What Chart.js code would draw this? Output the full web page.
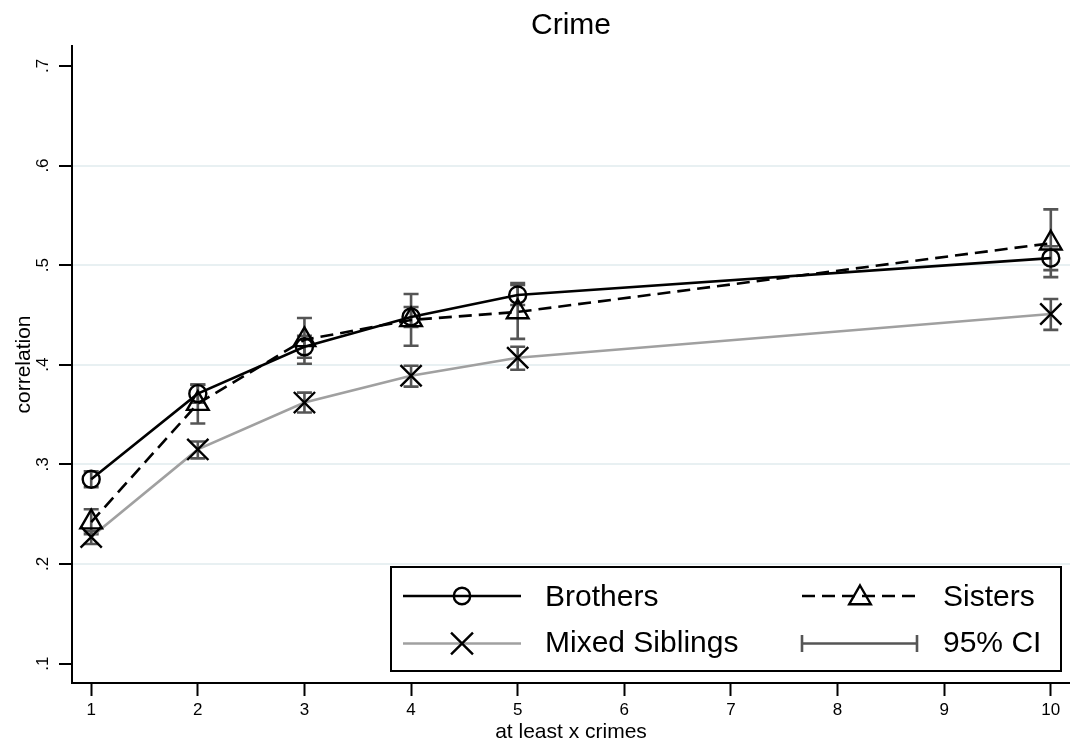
<!DOCTYPE html>
<html>
<head>
<meta charset="utf-8">
<title>Crime</title>
<script src="https://cdn.jsdelivr.net/npm/chart.js@4.4.1/dist/chart.umd.min.js"></script>
<style>
  html, body { margin: 0; padding: 0; background: #ffffff; }
  #wrap { width: 1070px; height: 747px; }
  canvas { display: block; }
</style>
</head>
<body>
<div id="wrap"><canvas id="chart" width="1070" height="747"></canvas></div>
<script>
// Thresholds: "at least x crimes"
const crimeCounts = [1, 2, 3, 4, 5, 10];

// Sibling correlations with 95% confidence bounds
const brothers     = [0.285, 0.371, 0.418, 0.448, 0.470, 0.507];
const brothersLow  = [0.277, 0.362, 0.407, 0.438, 0.460, 0.495];
const brothersHigh = [0.293, 0.380, 0.429, 0.458, 0.482, 0.519];

const sisters      = [0.242, 0.361, 0.425, 0.445, 0.453, 0.522];
const sistersLow   = [0.230, 0.341, 0.401, 0.419, 0.426, 0.488];
const sistersHigh  = [0.255, 0.380, 0.447, 0.471, 0.480, 0.556];

const mixed        = [0.227, 0.315, 0.362, 0.389, 0.407, 0.451];
const mixedLow     = [0.220, 0.306, 0.352, 0.378, 0.395, 0.435];
const mixedHigh    = [0.233, 0.323, 0.372, 0.399, 0.418, 0.466];

// Axis ticks
const xTicks = [1, 2, 3, 4, 5, 6, 7, 8, 9, 10];
const yTicks = [0.1, 0.2, 0.3, 0.4, 0.5, 0.6, 0.7];
const yTickLabels = ['.1', '.2', '.3', '.4', '.5', '.6', '.7'];
const yGridTicks = [0.2, 0.3, 0.4, 0.5, 0.6];

const FONT = "'Liberation Sans', Arial, Helvetica, sans-serif";
const CI_COLOR = '#555555';
const MIXED_COLOR = '#a0a0a0';

function points(values) {
  return crimeCounts.map((x, i) => ({ x: x, y: values[i] }));
}

// Interval caps drawn under the series lines
const ciBars = {
  id: 'ciBars',
  beforeDatasetsDraw(chart) {
    const ctx = chart.ctx;
    const xs = chart.scales.x, ys = chart.scales.y;
    const groups = [[mixedLow, mixedHigh], [sistersLow, sistersHigh], [brothersLow, brothersHigh]];
    ctx.save();
    ctx.strokeStyle = CI_COLOR;
    ctx.lineWidth = 2.6;
    ctx.lineCap = 'butt';
    groups.forEach(([lo, hi]) => {
      crimeCounts.forEach((c, i) => {
        const px = xs.getPixelForValue(c);
        const y1 = ys.getPixelForValue(lo[i]);
        const y2 = ys.getPixelForValue(hi[i]);
        ctx.beginPath();
        ctx.moveTo(px, y1); ctx.lineTo(px, y2);
        ctx.moveTo(px - 7.5, y1); ctx.lineTo(px + 7.5, y1);
        ctx.moveTo(px - 7.5, y2); ctx.lineTo(px + 7.5, y2);
        ctx.stroke();
      });
    });
    ctx.restore();
  }
};

function marker(ctx, style, x, y, r) {
  ctx.beginPath();
  if (style === 'circle') {
    ctx.arc(x, y, r, 0, Math.PI * 2);
  } else if (style === 'triangle') {
    let a = 0;
    ctx.moveTo(x + Math.sin(a) * r, y - Math.cos(a) * r);
    a += 2 * Math.PI / 3;
    ctx.lineTo(x + Math.sin(a) * r, y - Math.cos(a) * r);
    a += 2 * Math.PI / 3;
    ctx.lineTo(x + Math.sin(a) * r, y - Math.cos(a) * r);
    ctx.closePath();
  } else if (style === 'crossRot') {
    const o = Math.cos(Math.PI / 4) * r;
    ctx.moveTo(x - o, y - o); ctx.lineTo(x + o, y + o);
    ctx.moveTo(x + o, y - o); ctx.lineTo(x - o, y + o);
  }
  ctx.stroke();
}

// Boxed two-column key in the lower right of the plot
const keyBox = {
  id: 'keyBox',
  afterDraw(chart) {
    const ctx = chart.ctx;
    const box = { x: 391, y: 567, w: 670, h: 104 };
    const row1 = 596, row2 = 643.5;
    ctx.save();
    ctx.fillStyle = '#ffffff';
    ctx.fillRect(box.x, box.y, box.w, box.h);
    ctx.strokeStyle = '#000000';
    ctx.lineWidth = 2;
    ctx.strokeRect(box.x, box.y, box.w, box.h);

    // Brothers
    ctx.lineWidth = 2.6;
    ctx.strokeStyle = '#000000';
    ctx.beginPath(); ctx.moveTo(403, row1); ctx.lineTo(521, row1); ctx.stroke();
    ctx.lineWidth = 2.4;
    marker(ctx, 'circle', 462, row1, 8.2);

    // Sisters
    ctx.lineWidth = 2.6;
    ctx.setLineDash([13, 7]);
    ctx.beginPath(); ctx.moveTo(802, row1); ctx.lineTo(915, row1); ctx.stroke();
    ctx.setLineDash([]);
    ctx.lineWidth = 2.4;
    marker(ctx, 'triangle', 860, row1 + 2, 12.5);

    // Mixed siblings
    ctx.lineWidth = 2.6;
    ctx.strokeStyle = MIXED_COLOR;
    ctx.beginPath(); ctx.moveTo(403, row2); ctx.lineTo(521, row2); ctx.stroke();
    ctx.strokeStyle = '#000000';
    ctx.lineWidth = 2.4;
    marker(ctx, 'crossRot', 462, row2, 15.5);

    // Confidence interval
    ctx.strokeStyle = CI_COLOR;
    ctx.lineWidth = 2.6;
    ctx.beginPath();
    ctx.moveTo(802, row2); ctx.lineTo(917, row2);
    ctx.moveTo(802, row2 - 8.5); ctx.lineTo(802, row2 + 8.5);
    ctx.moveTo(917, row2 - 8.5); ctx.lineTo(917, row2 + 8.5);
    ctx.stroke();

    ctx.fillStyle = '#000000';
    ctx.font = '30px ' + FONT;
    ctx.textAlign = 'left';
    ctx.textBaseline = 'middle';
    ctx.fillText('Brothers', 545, row1 + 1.5);
    ctx.fillText('Sisters', 943, row1 + 1.5);
    ctx.fillText('Mixed Siblings', 545, row2 + 0.5);
    ctx.fillText('95% CI', 943, row2 + 0.5);
    ctx.restore();
  }
};

const whiteBg = {
  id: 'whiteBg',
  beforeDraw(chart) {
    const ctx = chart.ctx;
    ctx.save();
    ctx.fillStyle = '#ffffff';
    ctx.fillRect(0, 0, chart.width, chart.height);
    ctx.restore();
  }
};

new Chart(document.getElementById('chart'), {
  type: 'line',
  data: {
    datasets: [
      {
        label: 'Brothers',
        data: points(brothers),
        borderColor: '#000000',
        borderWidth: 2.6,
        pointStyle: 'circle',
        pointRadius: 8.5,
        pointBorderWidth: 2.4,
        pointBorderColor: '#000000',
        pointBackgroundColor: 'rgba(0,0,0,0)',
        tension: 0,
        fill: false
      },
      {
        label: 'Sisters',
        data: points(sisters),
        borderColor: '#000000',
        borderWidth: 2.6,
        borderDash: [13, 7],
        pointStyle: 'triangle',
        pointRadius: 12.5,
        pointBorderWidth: 2.4,
        pointBorderColor: '#000000',
        pointBackgroundColor: 'rgba(0,0,0,0)',
        tension: 0,
        fill: false
      },
      {
        label: 'Mixed Siblings',
        data: points(mixed),
        borderColor: MIXED_COLOR,
        borderWidth: 2.6,
        pointStyle: 'crossRot',
        pointRadius: 15,
        pointBorderWidth: 2.4,
        pointBorderColor: '#000000',
        pointBackgroundColor: 'rgba(0,0,0,0)',
        tension: 0,
        fill: false
      }
    ]
  },
  options: {
    responsive: false,
    devicePixelRatio: 1,
    animation: false,
    events: [],
    layout: { padding: 0, autoPadding: false },
    plugins: {
      legend: { display: false },
      tooltip: { enabled: false },
      title: {
        display: true,
        text: 'Crime',
        fullSize: false,
        color: '#000000',
        font: { family: FONT, size: 30, weight: 'normal' },
        padding: { top: 8, bottom: 2 }
      }
    },
    scales: {
      x: {
        type: 'linear',
        position: 'bottom',
        min: 0.82,
        max: 10.18,
        afterBuildTicks(scale) { scale.ticks = xTicks.map(v => ({ value: v })); },
        afterFit(scale) {
          scale.height = 64;
          scale.paddingLeft = 0;
          scale.paddingRight = 0;
        },
        ticks: {
          color: '#000000',
          font: { family: FONT, size: 17 },
          padding: 4,
          maxRotation: 0,
          minRotation: 0,
          callback: (v) => String(v)
        },
        grid: {
          drawOnChartArea: false,
          drawTicks: true,
          tickLength: 13,
          tickColor: '#000000',
          tickWidth: 2
        },
        border: { display: true, color: '#000000', width: 2 },
        title: {
          display: true,
          text: 'at least x crimes',
          color: '#000000',
          font: { family: FONT, size: 21 },
          padding: { top: 0, bottom: 2 }
        }
      },
      y: {
        type: 'linear',
        position: 'left',
        min: 0.0805,
        max: 0.72,
        afterBuildTicks(scale) { scale.ticks = yTicks.map(v => ({ value: v })); },
        afterFit(scale) {
          scale.width = 72;
          scale.paddingTop = 0;
          scale.paddingBottom = 0;
        },
        ticks: {
          color: '#000000',
          font: { family: FONT, size: 17 },
          padding: 8.7,
          minRotation: 90,
          maxRotation: 90,
          crossAlign: 'center',
          callback: (v) => {
            const i = yTicks.findIndex(t => Math.abs(t - v) < 1e-9);
            return i >= 0 ? yTickLabels[i] : '';
          }
        },
        grid: {
          drawOnChartArea: true,
          drawTicks: true,
          tickLength: 13,
          tickColor: '#000000',
          tickWidth: 2,
          lineWidth: 2,
          color: (c) => {
            const v = c.tick ? c.tick.value : null;
            return (v !== null && yGridTicks.some(t => Math.abs(t - v) < 1e-9)) ? '#e8f0f2' : 'rgba(0,0,0,0)';
          }
        },
        border: { display: true, color: '#000000', width: 2 },
        title: {
          display: true,
          text: 'correlation',
          color: '#000000',
          font: { family: FONT, size: 21 },
          padding: { top: 12, bottom: 0 }
        }
      }
    }
  },
  plugins: [whiteBg, ciBars, keyBox]
});
</script>
</body>
</html>
